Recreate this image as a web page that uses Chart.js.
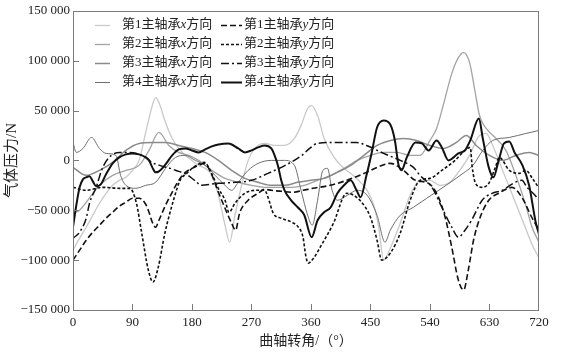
<!DOCTYPE html>
<html><head><meta charset="utf-8">
<script src="https://cdn.jsdelivr.net/npm/chart.js@4.4.0/dist/chart.umd.min.js"></script>
<style>html,body{margin:0;padding:0;background:#fff;}canvas{display:block;}</style>
</head><body>
<canvas id="c" width="566" height="359"></canvas>
<script>
// ---- axis ticks ----
const xTickValues = [0, 90, 180, 270, 360, 450, 540, 630, 705];
const xTickLabels = ['0', '90', '180', '270', '360', '450', '540', '630', '720'];
const yTickValues = [-150000, -100000, -50000, 0, 50000, 100000, 150000];
const yTickLabels = ['\u2212150 000', '\u2212100 000', '\u221250 000', '0', '50 000', '100 000', '150 000'];

// ---- series names ----
const seriesNames = [
  ['第1主轴承', 'x', '方向'], ['第2主轴承', 'x', '方向'], ['第3主轴承', 'x', '方向'], ['第4主轴承', 'x', '方向'],
  ['第1主轴承', 'y', '方向'], ['第2主轴承', 'y', '方向'], ['第3主轴承', 'y', '方向'], ['第4主轴承', 'y', '方向']
];

// ---- series data (crank angle in degrees, force in N) ----
const s1xAngles = [0,10,20,30,40,50,60,70,80,90,100,110,120,125,130,140,150,160,170,180,190,200,210,220,230,237,245,255,265,275,290,305,320,335,345,355,361,370,380,395,410,420,435,445,455,462,470,480,495,510,525,540,555,570,585,600,615,625,635,650,665,680,695,705];
const s1xValues = [-90000,-78000,-67000,-55000,-43000,-33000,-25000,-20000,-17000,-10000,0,28000,55000,63000,58000,38000,22000,12000,5000,0,-5000,-8000,-15000,-35000,-65000,-82000,-55000,-25000,0,12000,17000,15000,15000,22000,35000,52000,55000,45000,22000,3000,-8000,-13000,-22000,-30000,-45000,-65000,-100000,-88000,-63000,-35000,-20000,-20000,-25000,-22000,-10000,5000,25000,27000,15000,-10000,-35000,-60000,-85000,-98000];

const s2xAngles = [0,10,20,30,40,60,80,100,115,130,145,160,175,190,210,230,250,270,290,310,330,350,370,390,410,430,450,470,490,510,525,540,550,560,573,583,591,600,608,615,625,640,655,670,685,695,705];
const s2xValues = [-53000,-50000,-42000,-33000,-25000,-15000,-10000,-5000,10000,28000,15000,8000,5000,0,-10000,-18000,-22000,-25000,-27000,-27000,-27000,-25000,-20000,-15000,-8000,0,5000,8000,8000,5000,5000,20000,32000,55000,87000,103000,108000,98000,70000,45000,32000,22000,10000,-15000,-45000,-68000,-82000];

const s3xAngles = [0,20,40,60,80,100,120,140,160,180,200,220,240,260,280,300,320,340,360,380,400,420,440,460,480,500,520,540,560,580,595,610,630,650,670,690,705];
const s3xValues = [-7000,-15000,-10000,-2000,10000,17000,18000,18000,15000,12000,8000,0,-10000,-18000,-22000,-25000,-25000,-22000,-20000,-18000,-12000,-5000,5000,15000,20000,22000,20000,15000,12000,18000,25000,15000,5000,0,5000,8000,5000];

const s4xAngles = [0,5,15,28,40,50,65,72,80,95,110,125,140,155,170,185,200,215,230,240,250,265,280,300,320,335,345,355,362,370,378,385,392,400,415,430,445,460,472,480,495,515,535,560,590,605,620,635,660,685,705];
const s4xValues = [18000,8000,12000,23000,12000,7000,5000,-15000,-25000,-28000,-25000,-22000,-8000,3000,5000,0,-5000,-15000,-25000,-30000,-22000,-10000,-3000,0,0,-5000,-30000,-55000,-65000,-40000,-10000,-8000,-30000,-40000,-35000,-30000,-35000,-55000,-82000,-70000,-55000,-47000,-38000,-27000,-13000,-5000,10000,20000,23000,27000,30000];

const s1yAngles = [0,10,20,30,40,50,60,70,80,90,100,110,115,120,125,130,140,150,160,170,180,190,199,209,220,230,240,246,252,265,280,290,300,315,333,348,363,389,414,444,460,480,500,518,538,553,563,573,583,591,598,606,616,629,644,664,679,694,705];
const s1yValues = [-100000,-90000,-80000,-72000,-65000,-58000,-52000,-46000,-42000,-38000,-38000,-44000,-52000,-62000,-67000,-60000,-45000,-32000,-20000,-12000,-8000,-5000,-3000,-13000,-32000,-48000,-63000,-70000,-53000,-40000,-33000,-29000,-30000,-31000,-32000,-30000,-28000,-25000,-20000,-12000,-7000,-3000,-10000,-20000,-23000,-37000,-57000,-87000,-120000,-130000,-110000,-80000,-57000,-40000,-33000,-27000,-37000,-57000,-70000];

const s2yAngles = [0,20,45,71,86,96,104,114,121,129,139,152,162,172,184,199,209,219,230,236,245,260,275,290,295,303,315,331,341,348,352,356,364,374,394,414,434,450,460,467,480,495,510,525,540,558,578,593,601,604,609,619,629,639,645,660,675,685,695,705];
const s2yValues = [-27000,-30000,-27000,-28000,-28000,-43000,-73000,-110000,-122000,-107000,-73000,-40000,-20000,-13000,-6000,-2000,-12000,-27000,-40000,-52000,-43000,-33000,-30000,-30000,-37000,-53000,-58000,-62000,-67000,-77000,-95000,-103000,-98000,-87000,-63000,-33000,-40000,-57000,-80000,-100000,-93000,-73000,-40000,-20000,-18000,-10000,0,10000,13000,-7000,-23000,-27000,-23000,-7000,3000,-10000,-13000,-10000,-18000,-28000];

const s3yAngles = [0,10,20,25,35,45,58,71,85,96,110,119,131,147,160,169,184,194,219,245,270,295,321,346,358,369,394,429,444,470,495,515,525,543,558,573,583,593,603,619,634,649,666,679,687,699,705];
const s3yValues = [-78000,-72000,-58000,-43000,-27000,-7000,5000,8000,8000,7000,3000,-2000,-5000,-8000,-11000,-13000,-20000,-25000,-23000,-22000,-20000,-13000,-5000,5000,12000,17000,18000,18000,15000,7000,0,-7000,-15000,-27000,-47000,-67000,-77000,-70000,-60000,-40000,-33000,-30000,-23000,-20000,-27000,-35000,-40000];

const s4yAngles = [0,5,10,15,20,25,30,35,42,50,60,70,80,90,100,110,115,120,125,130,140,150,160,170,180,190,200,210,220,235,250,260,270,280,290,300,305,310,315,320,330,340,350,361,370,380,390,400,410,420,429,435,444,452,460,470,480,487,492,497,505,518,528,538,550,558,568,583,593,601,614,620,629,636,644,652,660,668,680,690,700,705];
const s4yValues = [-67000,-45000,-27000,-19000,-17000,-16000,-21000,-26000,-24000,-14000,-3000,3000,6000,7000,6000,3000,0,-7000,-12000,-11000,-4000,5000,11000,12000,10000,8000,11000,14000,16000,17000,12000,8000,10000,13000,15000,12000,5000,-5000,-20000,-30000,-40000,-47000,-55000,-77000,-60000,-52000,-47000,-33000,-25000,-20000,-30000,-37000,-15000,8000,33000,40000,36000,20000,-3000,-10000,3000,18000,17000,10000,20000,13000,0,7000,10000,20000,42000,22000,-7000,-17000,0,17000,19000,8000,-5000,-25000,-62000,-74000];

function pts(a, v) { return a.map((ang, i) => ({ x: ang, y: v[i] })); }

const styles = [
  { color: '#c9c9c9', width: 1.3, dash: [], order: 14 },
  { color: '#a3a3a3', width: 1.3, dash: [], order: 13 },
  { color: '#8a8a8a', width: 1.5, dash: [], order: 12 },
  { color: '#6e6e6e', width: 1.0, dash: [], order: 11 },
  { color: '#111111', width: 1.6, dash: [6, 3], order: 4 },
  { color: '#111111', width: 1.6, dash: [3, 2], order: 3 },
  { color: '#111111', width: 1.5, dash: [8, 3, 2, 3], order: 2 },
  { color: '#111111', width: 2.0, dash: [], order: 1 }
];
const seriesData = [
  pts(s1xAngles, s1xValues), pts(s2xAngles, s2xValues), pts(s3xAngles, s3xValues), pts(s4xAngles, s4xValues),
  pts(s1yAngles, s1yValues), pts(s2yAngles, s2yValues), pts(s3yAngles, s3yValues), pts(s4yAngles, s4yValues)
];

const datasets = seriesData.map((d, i) => ({
  label: seriesNames[i].join(''),
  data: d,
  borderColor: styles[i].color,
  borderWidth: styles[i].width,
  borderDash: styles[i].dash,
  order: styles[i].order,
  pointRadius: 0,
  fill: false,
  cubicInterpolationMode: 'monotone'
}));

const FRAME = '#7a7a7a';
const TXT = '#222';
const SERIF = "'Liberation Serif', 'Noto Sans CJK SC', serif";

const decor = {
  id: 'decor',
  afterDraw(chart) {
    const { ctx, chartArea: a, scales: { x, y } } = chart;
    ctx.save();
    ctx.strokeStyle = FRAME;
    ctx.lineWidth = 1;
    ctx.setLineDash([]);
    ctx.strokeRect(Math.round(a.left) + 0.5, Math.round(a.top) + 0.5, Math.round(a.right - a.left) - 1, Math.round(a.bottom - a.top));
    // inward ticks
    ctx.beginPath();
    xTickValues.forEach(v => {
      if (v <= 0 || v >= 705) return;
      const px = Math.round(x.getPixelForValue(v)) + 0.5;
      ctx.moveTo(px, a.bottom); ctx.lineTo(px, a.bottom - 6);
    });
    yTickValues.forEach(v => {
      if (v <= -150000 || v >= 150000) return;
      const py = Math.round(y.getPixelForValue(v)) + 0.5;
      ctx.moveTo(a.left, py); ctx.lineTo(a.left + 6, py);
    });
    ctx.stroke();
    // legend
    const rows = [25, 44, 63, 82];
    const cols = [{ x0: 95, x1: 110, tx: 122 }, { x0: 221, x1: 242, tx: 244 }];
    seriesNames.forEach((parts, i) => {
      const col = cols[i < 4 ? 0 : 1];
      const yy = rows[i % 4];
      const st = styles[i];
      ctx.strokeStyle = st.color;
      ctx.lineWidth = st.width;
      ctx.setLineDash(st.dash);
      ctx.beginPath();
      ctx.moveTo(col.x0, yy + 0.5); ctx.lineTo(col.x1, yy + 0.5);
      ctx.stroke();
      ctx.setLineDash([]);
      ctx.fillStyle = TXT;
      ctx.textBaseline = 'middle';
      ctx.textAlign = 'left';
      let tx = col.tx;
      ctx.font = "13px " + SERIF;
      ctx.fillText(parts[0], tx, yy);
      tx += ctx.measureText(parts[0]).width;
      ctx.font = "italic 13px " + SERIF;
      ctx.fillText(parts[1], tx, yy);
      tx += ctx.measureText(parts[1]).width;
      ctx.font = "13px " + SERIF;
      ctx.fillText(parts[2], tx, yy);
    });
    ctx.restore();
  }
};

new Chart(document.getElementById('c'), {
  type: 'line',
  data: { datasets },
  plugins: [decor],
  options: {
    responsive: false,
    animation: false,
    devicePixelRatio: 1,
    layout: { padding: { top: 10, right: 27, left: 0, bottom: 0 } },
    plugins: { legend: { display: false }, tooltip: { enabled: false } },
    scales: {
      x: {
        type: 'linear', min: 0, max: 705,
        afterFit(s) { s.height = 49; },
        afterBuildTicks(s) { s.ticks = xTickValues.map(v => ({ value: v })); },
        grid: { display: false, drawTicks: false },
        border: { display: false },
        ticks: {
          autoSkip: false, maxRotation: 0, padding: 5, color: TXT,
          font: { family: SERIF, size: 13 },
          callback(v) { const i = xTickValues.indexOf(v); return i >= 0 ? xTickLabels[i] : ''; }
        },
        title: { display: true, text: '曲轴转角/（°）', color: TXT, font: { family: SERIF, size: 14 }, padding: { top: 0, bottom: 9 } }
      },
      y: {
        type: 'linear', min: -150000, max: 150000,
        afterFit(s) { s.width = 73; },
        afterBuildTicks(s) { s.ticks = yTickValues.map(v => ({ value: v })); },
        grid: { display: false, drawTicks: false },
        border: { display: false },
        ticks: {
          autoSkip: false, padding: 3, color: TXT,
          font: { family: SERIF, size: 13 },
          callback(v) { const i = yTickValues.indexOf(v); return i >= 0 ? yTickLabels[i] : ''; }
        },
        title: { display: true, text: '气体压力/N', color: TXT, font: { family: SERIF, size: 15 }, padding: { top: 3, bottom: 0 } }
      }
    }
  }
});
</script>
</body></html>
